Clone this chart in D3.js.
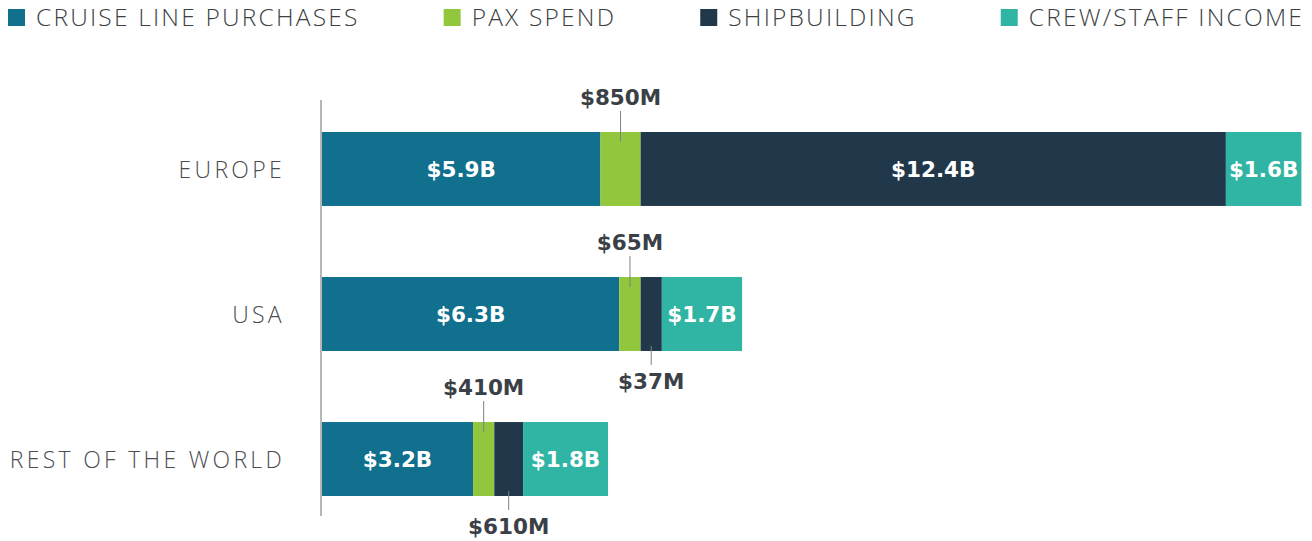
<!DOCTYPE html>
<html>
<head>
<meta charset="utf-8">
<script src="https://cdn.jsdelivr.net/npm/d3@7"></script>
<style>
  html, body { margin: 0; padding: 0; background: #fff; }
  svg { display: block; }
</style>
</head>
<body>
<svg id="chart" width="1312" height="541"></svg>
<script>
// regions, top to bottom
const regions = ['EUROPE', 'USA', 'REST OF THE WORLD'];
// series, in $B, same order as regions
const cruise_line = [5.9, 6.3, 3.2];
const pax_spend = [0.85, 0.065, 0.41];
const shipbuilding = [12.4, 0.037, 0.61];
const crew_income = [1.6, 1.7, 1.8];

const series_names = ['CRUISE LINE PURCHASES', 'PAX SPEND', 'SHIPBUILDING', 'CREW/STAFF INCOME'];
const series_keys = ['cruise', 'pax', 'ship', 'crew'];
const series_colors = ['#10708e', '#92c73d', '#21384b', '#30b4a4'];
// where a small segment puts its label when it does not fit inside
const outside_side = {pax: 'above', ship: 'below'};

let Chart = function(el){
  this.$el = el;
  this.width = +el.getAttribute('width');
  this.height = +el.getAttribute('height');
  this.left = 322;
  this.px_per_b = 47.2;
  this.min_shown = 0.45; // tiny segments are drawn at least this wide
  this.label_font = '"DejaVu Sans", sans-serif';
  this.thin_font = '"Open Sans", sans-serif';
  this.root = d3.select(el).append('g').attr('class', 'root_container');
  this.build_data();
  this.render_legend();
  this.render_bars();
};

Chart.prototype.build_data = function(){
  this.rows = regions.map((r, i) => ({
    region: r,
    cruise: cruise_line[i],
    pax: pax_spend[i],
    ship: shipbuilding[i],
    crew: crew_income[i]
  }));
  // stack the shown widths (with the small-segment floor)
  let shown = this.rows.map(d => {
    let o = {region: d.region};
    series_keys.forEach(k => { o[k] = Math.max(d[k], this.min_shown); });
    return o;
  });
  this.stack_data = d3.stack().keys(series_keys)(shown);
  let max_total = d3.max(shown, d => d3.sum(series_keys, k => d[k]));
  this.x = d3.scaleLinear().domain([0, max_total]).range([this.left, this.left + max_total * this.px_per_b]);
  this.y = d3.scaleBand().domain(regions).range([132, 496]).paddingInner(0.49).paddingOuter(0);
};

Chart.prototype.fmt = function(v){
  if(v >= 1) return '$' + v.toFixed(1) + 'B';
  return '$' + Math.round(v * 1000) + 'M';
};

Chart.prototype.render_legend = function(){
  let legend = this.root.append('g').attr('class', 'legend');
  let items = legend.selectAll('.legend_item').data(series_names).enter().append('g').attr('class', 'legend_item');
  items.append('rect')
    .attr('y', 9).attr('width', 17).attr('height', 17)
    .attr('fill', (d, i) => series_colors[i]);
  items.append('text')
    .attr('x', 28).attr('y', 26)
    .attr('font-family', this.thin_font).attr('font-weight', 300)
    .attr('font-size', 24.5).attr('letter-spacing', 2.2)
    .attr('fill', '#3c3f44')
    .text(d => d);
  // spread items across the full width
  let widths = [];
  items.each(function(){ widths.push(this.getBBox().width); });
  let start = 8, end = 1304;
  let gap = (end - start - d3.sum(widths)) / (widths.length - 1);
  let off = start;
  items.each(function(d, i){
    d3.select(this).attr('transform', 'translate(' + off + ',0)');
    off += widths[i] + gap;
  });
};

Chart.prototype.render_bars = function(){
  let x = this.x, y = this.y, bw = y.bandwidth();

  // vertical axis line
  this.root.append('line')
    .attr('x1', this.left - 1).attr('x2', this.left - 1)
    .attr('y1', 100).attr('y2', 516)
    .attr('stroke', '#6f6f6f').attr('stroke-width', 1);

  // region labels
  this.root.selectAll('.region_label').data(regions).enter().append('text')
    .attr('class', 'region_label')
    .attr('x', 285).attr('y', d => y(d) + bw / 2 + 9)
    .attr('text-anchor', 'end')
    .attr('font-family', this.thin_font).attr('font-weight', 300)
    .attr('font-size', 23).attr('letter-spacing', 3.3)
    .attr('fill', '#4a4c50')
    .text(d => d);

  let layers = this.root.selectAll('.layer').data(this.stack_data).enter().append('g')
    .attr('class', 'layer')
    .attr('fill', (d, i) => series_colors[i]);

  layers.selectAll('rect').data(d => d.map(s => ({s: s, key: d.key}))).enter().append('rect')
    .attr('x', d => x(d.s[0]))
    .attr('y', d => y(d.s.data.region))
    .attr('width', d => x(d.s[1]) - x(d.s[0]))
    .attr('height', bw);

  // value labels
  let labels = [];
  this.stack_data.forEach(layer => {
    layer.forEach((s, i) => {
      let v = this.rows[i][layer.key];
      let x0 = x(s[0]), x1 = x(s[1]);
      labels.push({
        text: this.fmt(v),
        cx: (x0 + x1) / 2,
        top: y(s.data.region),
        inside: (x1 - x0) >= 60,
        side: outside_side[layer.key] || 'above'
      });
    });
  });

  let lg = this.root.append('g').attr('class', 'value_labels')
    .attr('font-family', this.label_font).attr('font-weight', 700).attr('font-size', 21.5);

  lg.selectAll('.in_label').data(labels.filter(d => d.inside)).enter().append('text')
    .attr('class', 'in_label')
    .attr('x', d => d.cx).attr('y', d => d.top + bw / 2 + 8)
    .attr('text-anchor', 'middle').attr('fill', '#ffffff')
    .text(d => d.text);

  let outs = labels.filter(d => !d.inside);
  lg.selectAll('.leader').data(outs).enter().append('line')
    .attr('class', 'leader')
    .attr('x1', d => d.cx).attr('x2', d => d.cx)
    .attr('y1', d => d.side == 'above' ? d.top - 21 : d.top + bw - 5)
    .attr('y2', d => d.side == 'above' ? d.top + 10 : d.top + bw + 14)
    .attr('stroke', '#7d8288').attr('stroke-width', 1);

  lg.selectAll('.out_label').data(outs).enter().append('text')
    .attr('class', 'out_label')
    .attr('x', d => d.cx)
    .attr('y', d => d.side == 'above' ? d.top - 27 : d.top + bw + 38)
    .attr('text-anchor', 'middle').attr('fill', '#3b3f46')
    .text(d => d.text);
};

new Chart(document.getElementById('chart'));
</script>
</body>
</html>
